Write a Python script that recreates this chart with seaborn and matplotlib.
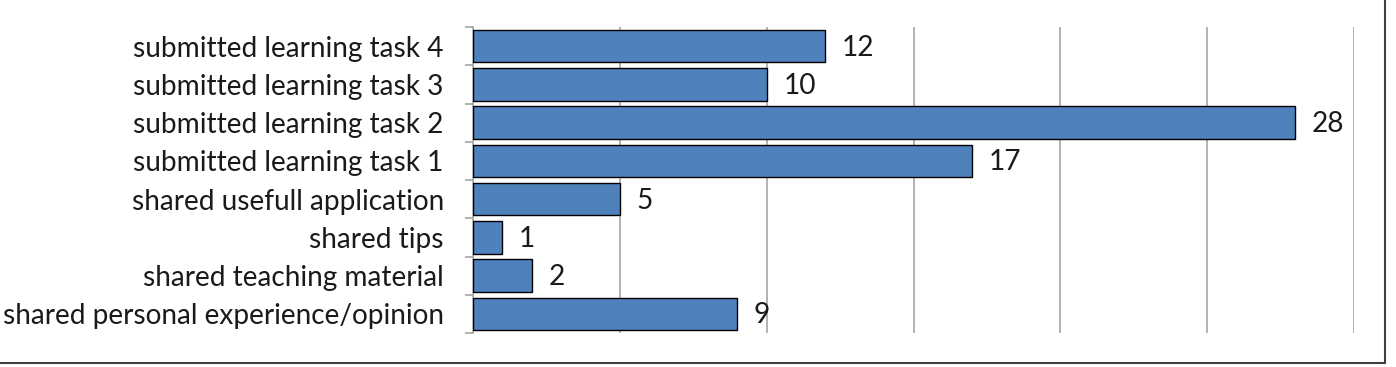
import matplotlib
matplotlib.use("Agg")
import matplotlib.pyplot as plt
import seaborn as sns
import pandas as pd
from matplotlib.lines import Line2D

categories = [
    "submitted learning task 4",
    "submitted learning task 3",
    "submitted learning task 2",
    "submitted learning task 1",
    "shared usefull application",
    "shared tips",
    "shared teaching material",
    "shared personal experience/opinion",
]
values = [12, 10, 28, 17, 5, 1, 2, 9]

sns.set_style("white")
plt.rcParams["font.family"] = ["Lato", "DejaVu Sans"]

df = pd.DataFrame({"category": categories, "value": values})

fig = plt.figure(figsize=(13.96, 3.67), dpi=100)
ax = fig.add_axes([473 / 1396, 1 - 333 / 367, (1354 - 473) / 1396, (333 - 27) / 367])

sns.barplot(data=df, y="category", x="value", order=categories, orient="h",
            color="#4F81BD", saturation=1, width=0.85, edgecolor="black",
            linewidth=1.0, ax=ax, zorder=3)

ax.set_xlim(0, 30)
ax.set_ylim(len(categories) - 0.5, -0.5)
ax.set_xticks([0, 5, 10, 15, 20, 25, 30])
ax.set_xticklabels([])
ax.tick_params(axis="x", length=0)
ax.grid(axis="x", color="#A6A6A6", linewidth=1.2, zorder=0)
ax.set_xlabel("")
ax.set_ylabel("")

ax.set_yticks(range(len(categories)))
ax.set_yticklabels(categories, fontsize=20.2, color="#1a1a1a")
ax.tick_params(axis="y", which="major", length=0, pad=21)
ax.set_yticks([i - 0.5 for i in range(len(categories) + 1)], minor=True)
ax.tick_params(axis="y", which="minor", left=True, length=6, color="#A6A6A6",
               width=1.2, direction="out")

for s in ["top", "right", "bottom"]:
    ax.spines[s].set_visible(False)
ax.spines["left"].set_color("#A6A6A6")
ax.spines["left"].set_linewidth(1.2)

for i, v in enumerate(values):
    ax.annotate(str(v), xy=(v, i), xytext=(12, -1), textcoords="offset points",
                ha="left", va="center", fontsize=20.2, color="#1a1a1a")

fig.add_artist(Line2D([1385 / 1396, 1385 / 1396], [1 - 363 / 367, 1], transform=fig.transFigure,
                      color="#404040", linewidth=1.5))
fig.add_artist(Line2D([0, 1385 / 1396], [1 - 363 / 367, 1 - 363 / 367], transform=fig.transFigure,
                      color="#404040", linewidth=1.5))

fig.savefig("out.png", dpi=100)
